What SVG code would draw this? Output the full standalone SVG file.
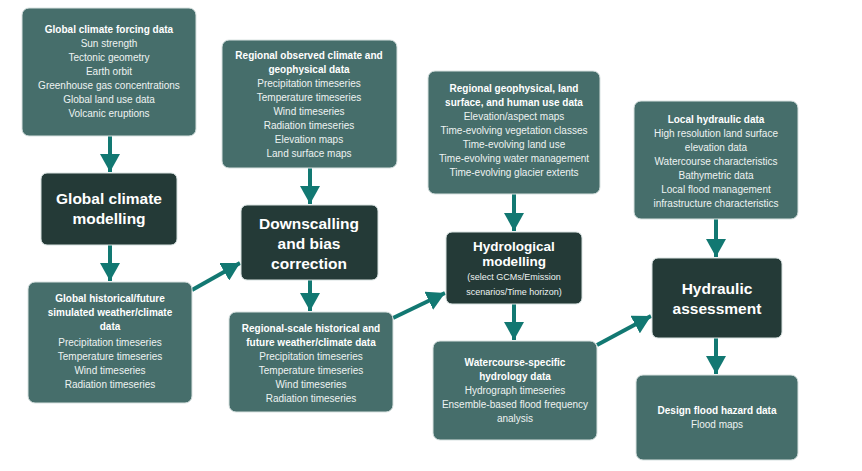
<svg xmlns="http://www.w3.org/2000/svg" width="862" height="471" viewBox="0 0 862 471">
<style>
.d{fill:#466e6b;stroke:#d8e2e1;stroke-width:1}
.m{fill:#243a37;stroke:#d8e2e1;stroke-width:1}
text{font-family:"Liberation Sans",Arial,sans-serif;fill:#fff;text-anchor:middle}
.t{font-size:10px;fill:#eef3f2}
.b{font-size:10px;font-weight:bold}
.h{font-size:15.5px;font-weight:bold}
.c{stroke:#127872;stroke-width:4;fill:none}
</style>
<defs><marker id="a" markerUnits="userSpaceOnUse" markerWidth="22" markerHeight="20" refX="18" refY="10" orient="auto"><path d="M0,0 L18,10 L0,20 Z" fill="#127872"/></marker></defs>
<rect width="862" height="471" fill="#fff"/>
<g id="connectors">
<path class="c" marker-end="url(#a)" d="M110,136 V172"/>
<path class="c" marker-end="url(#a)" d="M310,168 V204"/>
<path class="c" marker-end="url(#a)" d="M110,245 V281"/>
<path class="c" marker-end="url(#a)" d="M310,280 V311"/>
<path class="c" marker-end="url(#a)" d="M514,194 V231"/>
<path class="c" marker-end="url(#a)" d="M514,304 V340"/>
<path class="c" marker-end="url(#a)" d="M716,219 V257"/>
<path class="c" marker-end="url(#a)" d="M716,338 V374"/>
<path class="c" marker-end="url(#a)" d="M192,290 L240,263"/>
<path class="c" marker-end="url(#a)" d="M393,318 L445,293"/>
<path class="c" marker-end="url(#a)" d="M597,345 L651,316"/>
</g>
<g id="n1"><rect class="d" x="22" y="8" width="174" height="128" rx="7"/>
<text class="b" x="109" y="33">Global climate forcing data</text>
<text class="t" x="109" y="47">Sun strength</text><text class="t" x="109" y="61">Tectonic geometry</text><text class="t" x="109" y="75">Earth orbit</text><text class="t" x="109" y="89">Greenhouse gas concentrations</text><text class="t" x="109" y="103">Global land use data</text><text class="t" x="109" y="117">Volcanic eruptions</text></g>
<g id="n2"><rect class="m" x="41" y="173" width="136" height="72" rx="6"/>
<text class="h" x="109" y="204">Global climate</text><text class="h" x="109" y="224">modelling</text></g>
<g id="n3"><rect class="d" x="222" y="40" width="175" height="128" rx="7"/>
<text class="b" x="309" y="59">Regional observed climate and</text><text class="b" x="309" y="73">geophysical data</text>
<text class="t" x="309" y="87">Precipitation timeseries</text><text class="t" x="309" y="101">Temperature timeseries</text><text class="t" x="309" y="115">Wind timeseries</text><text class="t" x="309" y="129">Radiation timeseries</text><text class="t" x="309" y="143">Elevation maps</text><text class="t" x="309" y="157">Land surface maps</text></g>
<g id="n4"><rect class="m" x="241" y="205" width="137" height="75" rx="6"/>
<text class="h" x="309" y="229">Downscalling</text><text class="h" x="309" y="249">and bias</text><text class="h" x="309" y="269">correction</text></g>
<g id="n5"><rect class="d" x="28" y="282" width="164" height="121" rx="7"/>
<text class="b" x="110" y="302">Global historical/future</text><text class="b" x="110" y="316">simulated weather/climate</text><text class="b" x="110" y="330">data</text>
<text class="t" x="110" y="346">Precipitation timeseries</text><text class="t" x="110" y="360">Temperature timeseries</text><text class="t" x="110" y="374">Wind timeseries</text><text class="t" x="110" y="388">Radiation timeseries</text></g>
<g id="n6"><rect class="d" x="229" y="312" width="164" height="100" rx="7"/>
<text class="b" x="311" y="332">Regional-scale historical and</text><text class="b" x="311" y="346">future weather/climate data</text>
<text class="t" x="311" y="360">Precipitation timeseries</text><text class="t" x="311" y="374">Temperature timeseries</text><text class="t" x="311" y="388">Wind timeseries</text><text class="t" x="311" y="402">Radiation timeseries</text></g>
<g id="n7"><rect class="d" x="428" y="71" width="172" height="123" rx="7"/>
<text class="b" x="514" y="92">Regional geophysical, land</text><text class="b" x="514" y="106">surface, and human use data</text>
<text class="t" x="514" y="120">Elevation/aspect maps</text><text class="t" x="514" y="134">Time-evolving vegetation classes</text><text class="t" x="514" y="148">Time-evolving land use</text><text class="t" x="514" y="162">Time-evolving water management</text><text class="t" x="514" y="176">Time-evolving glacier extents</text></g>
<g id="n8"><rect class="m" x="446" y="232" width="136" height="72" rx="6"/>
<text class="h" x="514" y="251" style="font-size:13.5px">Hydrological</text><text class="h" x="514" y="266" style="font-size:13.5px">modelling</text>
<text class="t" x="514" y="280" style="font-size:9px">(select GCMs/Emission</text><text class="t" x="514" y="295" style="font-size:9px">scenarios/Time horizon)</text></g>
<g id="n9"><rect class="d" x="433" y="341" width="164" height="99" rx="7"/>
<text class="b" x="515" y="366">Watercourse-specific</text><text class="b" x="515" y="380">hydrology data</text>
<text class="t" x="515" y="394">Hydrograph timeseries</text><text class="t" x="515" y="408">Ensemble-based flood frequency</text><text class="t" x="515" y="422">analysis</text></g>
<g id="n10"><rect class="d" x="634" y="101" width="164" height="118" rx="7"/>
<text class="b" x="716" y="123">Local hydraulic data</text>
<text class="t" x="716" y="137">High resolution land surface</text><text class="t" x="716" y="151">elevation data</text><text class="t" x="716" y="165">Watercourse characteristics</text><text class="t" x="716" y="179">Bathymetric data</text><text class="t" x="716" y="193">Local flood management</text><text class="t" x="716" y="207">infrastructure characteristics</text></g>
<g id="n11"><rect class="m" x="652" y="258" width="130" height="80" rx="6"/>
<text class="h" x="717" y="294">Hydraulic</text><text class="h" x="717" y="314">assessment</text></g>
<g id="n12"><rect class="d" x="636" y="375" width="162" height="85" rx="7"/>
<text class="b" x="717" y="414">Design flood hazard data</text><text class="t" x="717" y="428">Flood maps</text></g>
</svg>
